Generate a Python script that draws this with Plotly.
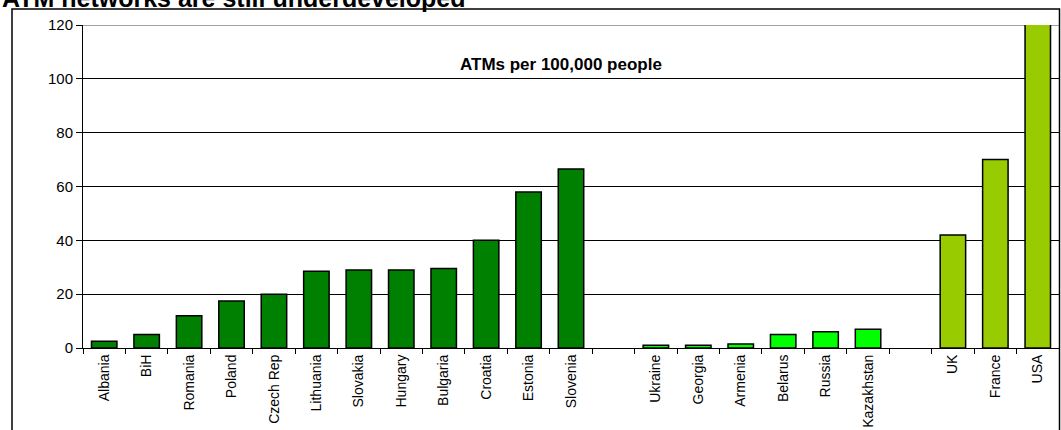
import plotly.graph_objects as go

cee = ["Albania", "BiH", "Romania", "Poland", "Czech Rep", "Lithuania", "Slovakia",
       "Hungary", "Bulgaria", "Croatia", "Estonia", "Slovenia"]
cee_vals = [2.5, 5, 12, 17.5, 20, 28.5, 29, 29, 29.5, 40, 58, 66.5]
cis = ["Ukraine", "Georgia", "Armenia", "Belarus", "Russia", "Kazakhstan"]
cis_vals = [1, 1, 1.5, 5, 6, 7]
dev = ["UK", "France", "USA"]
dev_vals = [42, 70, 121]
gaps = [" ", "  "]
order = cee + [gaps[0]] + cis + [gaps[1]] + dev

title_text = "ATM networks are still underdeveloped"
chart_label = "ATMs per 100,000 people"
yticks = [0, 20, 40, 60, 80, 100, 120]

FONT = "Liberation Sans, Arial, sans-serif"
W, H = 1061, 430
L, R, T, B = 83, 2, 25, 82
pw, ph = W - L - R, H - T - B

fig = go.Figure()
for names, vals, col in [(cee, cee_vals, "#008000"), (cis, cis_vals, "#00FF00"), (dev, dev_vals, "#99CC00")]:
    fig.add_trace(go.Bar(x=names, y=vals, width=0.6, marker=dict(color=col, line=dict(color="black", width=1.5)),
                         showlegend=False, cliponaxis=False))

fig.update_layout(
    width=W, height=H, margin=dict(l=L, r=R, t=T, b=B),
    plot_bgcolor="white", paper_bgcolor="white", barmode="overlay",
    font=dict(family=FONT, color="black"),
)
fig.update_xaxes(type="category", categoryorder="array", categoryarray=order,
                 range=[-0.5, len(order) - 0.5], automargin=False,
                 tickson="boundaries", ticks="outside", ticklen=5, tickcolor="black",
                 showline=True, linecolor="black", linewidth=1, showgrid=False,
                 tickangle=-90, tickfont=dict(size=14, family=FONT, color="black"))
fig.update_yaxes(range=[0, 120], tickvals=yticks, ticks="outside", ticklen=6, tickcolor="black",
                 showline=True, linecolor="black", linewidth=1, automargin=False,
                 showgrid=True, gridcolor="black", gridwidth=1, zeroline=False,
                 tickfont=dict(size=15, family=FONT, color="black"))

# top gridline in gray
fig.add_shape(type="line", xref="paper", yref="y", x0=0, x1=1, y0=120, y1=120,
              line=dict(color="#808080", width=1.5), layer="below")
# outer chart frame
fig.add_shape(type="rect", xref="paper", yref="paper",
              x0=(12 - L) / pw, x1=(1059.5 - L) / pw, y0=-0.5, y1=(H - B - 9) / ph,
              line=dict(color="black", width=1.5))

fig.add_annotation(text="<b>" + chart_label + "</b>", xref="paper", yref="paper",
                   x=(561 - L) / pw, y=(H - B - 53) / ph, showarrow=False,
                   font=dict(size=17, family=FONT, color="black"))
fig.add_annotation(text="<b>" + title_text + "</b>", xref="paper", yref="paper",
                   x=(0 - L) / pw, xanchor="left", y=(H - B + 2) / ph, yanchor="middle",
                   showarrow=False, font=dict(size=25, family=FONT, color="black"))

fig.write_html("out.html", config={"displayModeBar": False},
               post_script="document.body.style.margin='0';document.body.style.overflow='hidden';")
